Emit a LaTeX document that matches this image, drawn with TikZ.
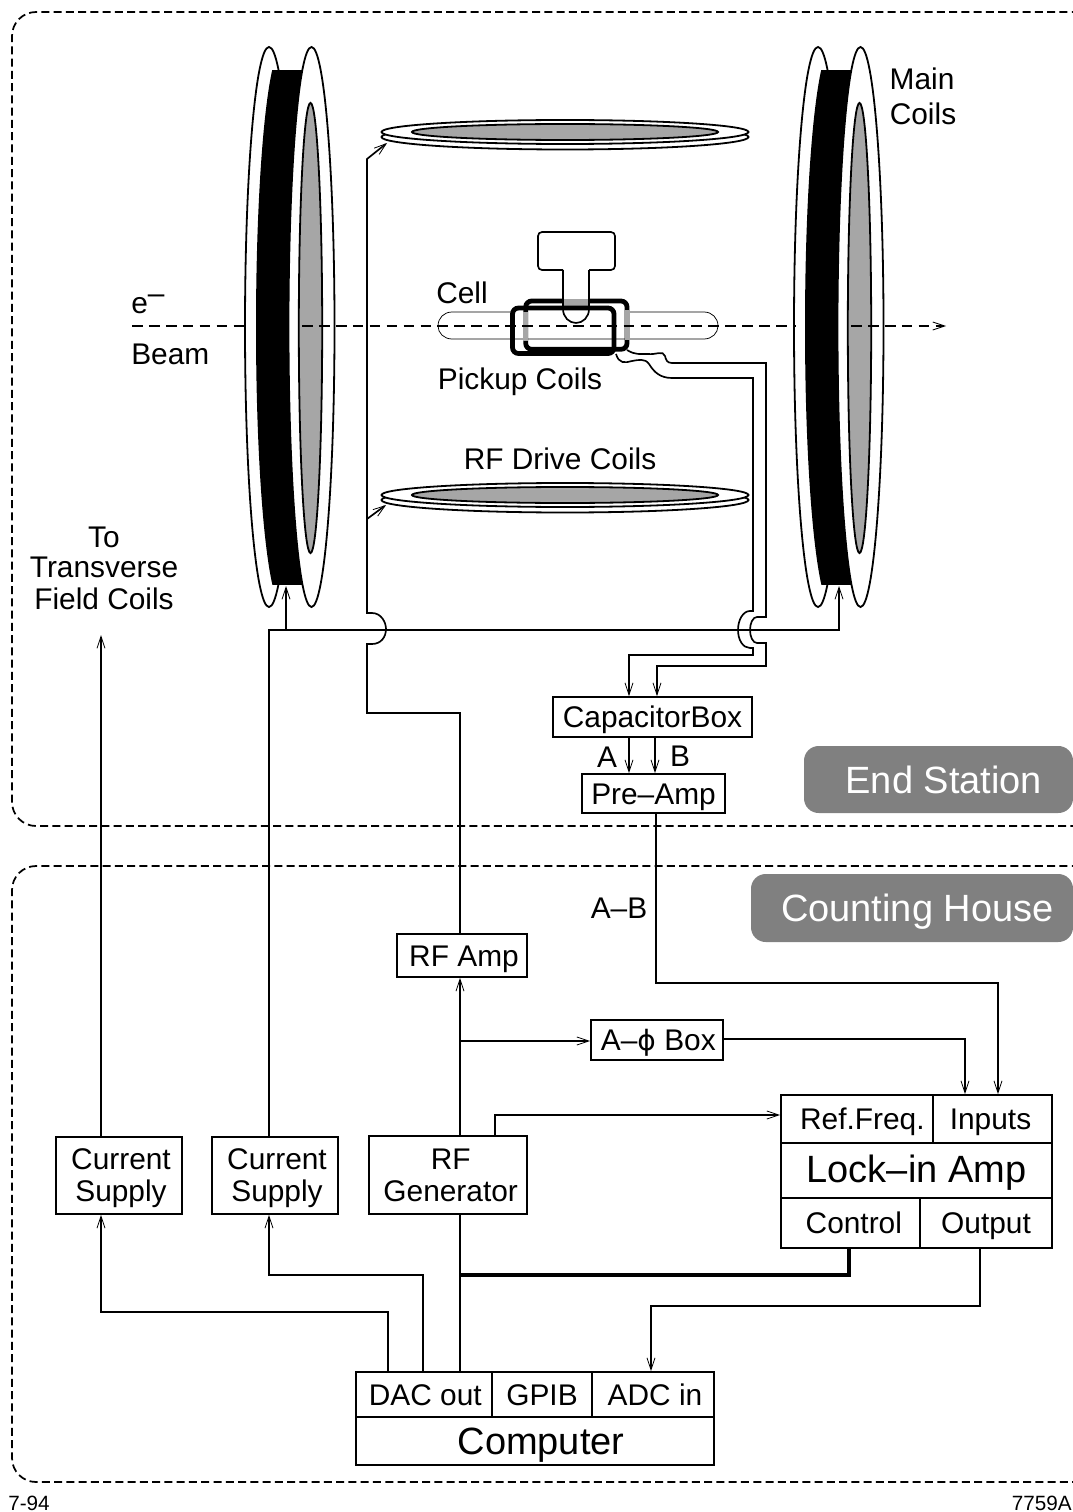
\documentclass[tikz,border=0pt]{standalone}
\usepackage{fontspec}
\setmainfont{Liberation Sans}
\newfontfamily\phifont{DejaVu Sans}
\usetikzlibrary{arrows.meta}
\definecolor{coilgray}{HTML}{A6A6A6}
\definecolor{taggray}{HTML}{808080}
\tikzset{
  wire/.style={line width=1.25pt,line join=miter},
  arr/.style={wire,-{Straight Barb[length=9pt,width=6pt,line width=.6pt]}},
  coil/.style={line width=1.35pt,draw=black,fill=white},
  txt/.style={font=\fontsize{22.4pt}{24pt}\selectfont,inner sep=0pt,anchor=base},
  boxn/.style={draw,line width=1.4pt,inner sep=0pt,fill=white,font=\fontsize{22.4pt}{24pt}\selectfont,text height=16pt,text depth=0pt},
  bigbox/.style={boxn,font=\fontsize{28.5pt}{30pt}\selectfont,text height=20.4pt},
  lockbox/.style={bigbox,text height=18pt},
  twobox/.style={draw,line width=1.4pt,inner sep=0pt,fill=white,align=center,font=\fontsize{22.4pt}{24pt}\selectfont},
  tag/.style={fill=taggray,text=white,rounded corners=11pt,inner sep=0pt,font=\fontsize{28.5pt}{30pt}\selectfont,text height=20.4pt,text depth=0pt},
  frame/.style={line width=1.3pt,dash pattern=on 6pt off 3.2pt,rounded corners=18pt},
  beam/.style={line width=1.25pt,dash pattern=on 8pt off 4.7pt},
  pickcoil/.style={line width=3.6pt,rounded corners=4.5pt},
}
\newcommand{\bx}[7][boxn]{%
  \pgfmathsetmacro\cxx{(#3+#5)/2}\pgfmathsetmacro\cyy{(#4+#6)/2}%
  \pgfmathsetmacro\wdd{(#5-#3)*.75}\pgfmathsetmacro\htt{(#6-#4)*.75}%
  \node[#1,minimum width=\wdd pt,minimum height=\htt pt] (#2) at (\cxx,\cyy) {#7};}
\newcommand{\maincoil}[1]{%
  \begin{scope}[xshift=#1*.75pt]
    \path[coil] (269,327) ellipse [x radius=24,y radius=280];
    \begin{scope}
      \clip (283,47) .. controls (268,47) and (256,172) .. (256,327)
            .. controls (256,482) and (268,607) .. (283,607) -- (320,607) -- (320,47) -- cycle;
      \fill[black] (250,70) rectangle (310,585);
    \end{scope}
    \path[coil] (311.5,327) ellipse [x radius=23,y radius=280];
    \path[coil,fill=coilgray] (310.5,328) ellipse [x radius=11.7,y radius=225];
  \end{scope}}
\newcommand{\disc}[1]{%
  \path[coil] (565,#1+5) ellipse [x radius=183.5,y radius=12.5];
  \path[coil] (565,#1) ellipse [x radius=183.5,y radius=12];
  \path[coil,fill=coilgray] (565,#1) ellipse [x radius=153,y radius=8];}
\begin{document}
\begin{tikzpicture}[x=.75pt,y=-.75pt]
\useasboundingbox (0,0) rectangle (1073,1512);
% regions
\begin{scope}
  \clip (0,0) rectangle (1073,1512);
  \draw[frame] (1092,12) -- (12,12) -- (12,826) -- (1092,826);
  \draw[frame] (1092,866) -- (12,866) -- (12,1482) -- (1092,1482);
\end{scope}
\bx[tag]{endst}{804}{746}{1073}{813}{\hspace*{8pt}End Station}
\bx[tag]{house}{751}{874}{1073}{942}{\hspace*{8pt}Counting House}
% coils
\maincoil{0}
\maincoil{549}
\disc{132}
\disc{495}
% cell, bulb, pickup coils
\draw[line width=.55pt] (512,312) -- (452,312) .. controls (444,312) and (438,318) .. (438,326)
  .. controls (438,333) and (444,339) .. (452,339) -- (704,339)
  .. controls (712,339) and (718,333) .. (718,326) .. controls (718,318) and (712,312) .. (704,312) -- (629,312);
\draw[pickcoil] (525.7,301) rectangle (627,349.3);
\fill[white] (563.5,270) rectangle (588.5,310);
\draw[line width=1.25pt,rounded corners=3pt] (563,270) -- (538,270) -- (538,232) -- (615,232) -- (615,270) -- (589,270);
\draw[line width=1.25pt] (563,270) -- (563,309) .. controls (563,317) and (569,323) .. (576,323)
  .. controls (583,323) and (589,317) .. (589,309) -- (589,270);
\fill[coilgray] (563.7,298.7) rectangle (588.3,306);
\fill[coilgray] (523.2,312) rectangle (528.2,341);
\fill[coilgray] (624.5,310) rectangle (629.5,340);
% beam
\draw[beam] (132,326) -- (244,326);
\draw[beam] (302,326) -- (796,326);
\draw[beam,-{Straight Barb[length=9pt,width=6pt,line width=.6pt]}] (851,326) -- (946,326);
\draw[pickcoil] (512.5,308) rectangle (614,353.5);
% named anchor points on the drawn hardware
\coordinate (pickA) at (616,354);
\coordinate (pickB) at (627,350);
\coordinate (lcoil) at (286,586);
\coordinate (rcoil) at (839,586);
\coordinate (topdisc) at (387,143);
\coordinate (botdisc) at (386,505);
% boxes
\bx{cap}{553}{697}{752}{737}{CapacitorBox}
\bx{pre}{582}{774}{725}{813}{Pre--Amp}
\bx{rfamp}{397}{934}{527}{977}{\hspace*{3pt}RF Amp}
\bx{aphi}{591}{1020}{723}{1060}{\hspace*{2pt}A--{\phifont\fontsize{21pt}{22pt}\selectfont ϕ} Box}
\bx{ref}{781}{1095}{933}{1143}{\hspace*{8pt}Ref.Freq.}
\bx{inp}{933}{1095}{1052}{1143}{Inputs\hspace*{3pt}}
\bx[lockbox]{lock}{781}{1143}{1052}{1198}{Lock--in Amp}
\bx{ctrl}{781}{1198}{920}{1248}{\hspace*{5pt}Control}
\bx{outp}{920}{1198}{1052}{1248}{Output}
\bx[twobox]{sa}{56}{1137}{182}{1214}{\fontsize{22.4pt}{24pt}\selectfont\rule{0pt}{19.4pt}\hspace*{3pt}Current\\\hspace*{3pt}Supply}
\bx[twobox]{sb}{212}{1137}{338}{1214}{\fontsize{22.4pt}{24pt}\selectfont\rule{0pt}{19.4pt}\hspace*{3pt}Current\\\hspace*{3pt}Supply}
\bx[twobox]{gen}{369}{1136}{527}{1214}{\fontsize{22.4pt}{24pt}\selectfont\hspace*{4pt}RF\\\hspace*{4pt}Generator}
\bx{dac}{356}{1372}{492}{1417}{\hspace*{2pt}DAC out}
\bx{gpib}{492}{1372}{592}{1417}{GPIB}
\bx{adc}{592}{1372}{714}{1417}{\hspace*{3pt}ADC in}
\bx[bigbox]{comp}{356}{1417}{714}{1465}{\hspace*{9pt}Computer}
% connectors
\draw[wire] (sb.north -| 269,0) -- (269,630) -- (840,630);
\draw[arr] (286,630) -- (lcoil);
\draw[arr] (rcoil |- 0,630) -- (rcoil);
\draw[arr] (rfamp.north -| 460,0) -- (460,713) -- (367,713) -- (367,644) -- (372,644)
  .. controls (381,644) and (386,637) .. (386,629) .. controls (386,622) and (381,613) .. (372,613)
  -- (367,613) -- (367,159) -- (topdisc);
\draw[arr] (367,519) -- (botdisc);
\draw[arr] (pickA) .. controls (619,364) and (625,363) .. (632,361) .. controls (638,360) and (645,358) .. (649,364)
  .. controls (654,372) and (660,378) .. (672,378) -- (753,378) -- (753,611) -- (750,611)
  .. controls (743,611) and (738,620) .. (738,630) .. controls (738,640) and (743,648) .. (750,648) -- (753,648)
  -- (753,655) -- (629,655) -- (cap.north -| 629,0);
\draw[arr] (pickB) .. controls (635,355) and (640,354) .. (648,354) .. controls (656,355) and (663,350) .. (665,356)
  .. controls (666,360) and (667,363) .. (672,363) -- (766,363) -- (766,617) -- (757,617)
  .. controls (753,617) and (750,623) .. (750,630) .. controls (750,637) and (753,643) .. (757,643) -- (766,643)
  -- (766,666) -- (657,666) -- (cap.north -| 657,0);
\draw[arr] (cap.south -| 629,0) -- (pre.north -| 629,0);
\draw[arr] (cap.south -| 655,0) -- (pre.north -| 655,0);
\draw[arr] (pre.south -| 656,0) -- (656,983) -- (998,983) -- (inp.north -| 998,0);
\draw[arr] (gen.north -| 460,0) -- (rfamp.south -| 460,0);
\draw[arr] (460,1041) -- (aphi.west |- 0,1041);
\draw[arr] (aphi.east |- 0,1039) -- (965,1039) -- (inp.north -| 965,0);
\draw[arr] (gen.north -| 495,0) -- (495,1115) -- (ref.west |- 0,1115);
\coordinate (tolabel) at (101,635);
\draw[arr] (sa.north -| 101,0) -- (tolabel);
\draw[arr] (dac.north -| 388,0) -- (388,1312) -- (101,1312) -- (sa.south -| 101,0);
\draw[arr] (dac.north -| 423,0) -- (423,1275) -- (269,1275) -- (sb.south -| 269,0);
\draw[wire] (dac.north -| 460,0) -- (gen.south -| 460,0);
\draw[line width=2.3pt] (460,1275) -- (849,1275) -- (ctrl.south -| 849,0);
\draw[arr] (outp.south -| 980,0) -- (980,1306) -- (651,1306) -- (adc.north -| 651,0);
% labels
\node[txt] (lmain) at (922,90) {Main};
\node[txt] (lcoils) at (923,125) {Coils};
\node[txt] (lcell) at (462,303) {Cell};
\node[txt] (lpick) at (520,389) {Pickup Coils};
\node[txt] (lrf) at (560,469) {RF Drive Coils};
\node[txt,anchor=base west] (le) at (131,313) {e\raisebox{7.5pt}{--}};
\node[txt,anchor=base west] (lbeam) at (131,364) {Beam};
\node[txt] (lto) at (104,547) {To};
\node[txt] (ltr) at (104,577) {Transverse};
\node[txt] (lfc) at (104,609) {Field Coils};
\node[txt] (la) at (607,767) {A};
\node[txt] (lb) at (680,766) {B};
\node[txt] (lab) at (619,918) {A--B};
\node[inner sep=0pt,anchor=base west,font=\fontsize{15.5pt}{17pt}\selectfont] (ldate) at (8,1510) {7-94};
\node[inner sep=0pt,anchor=base east,font=\fontsize{15.5pt}{17pt}\selectfont] (lnum) at (1072,1510) {7759A};
\end{tikzpicture}
\end{document}
